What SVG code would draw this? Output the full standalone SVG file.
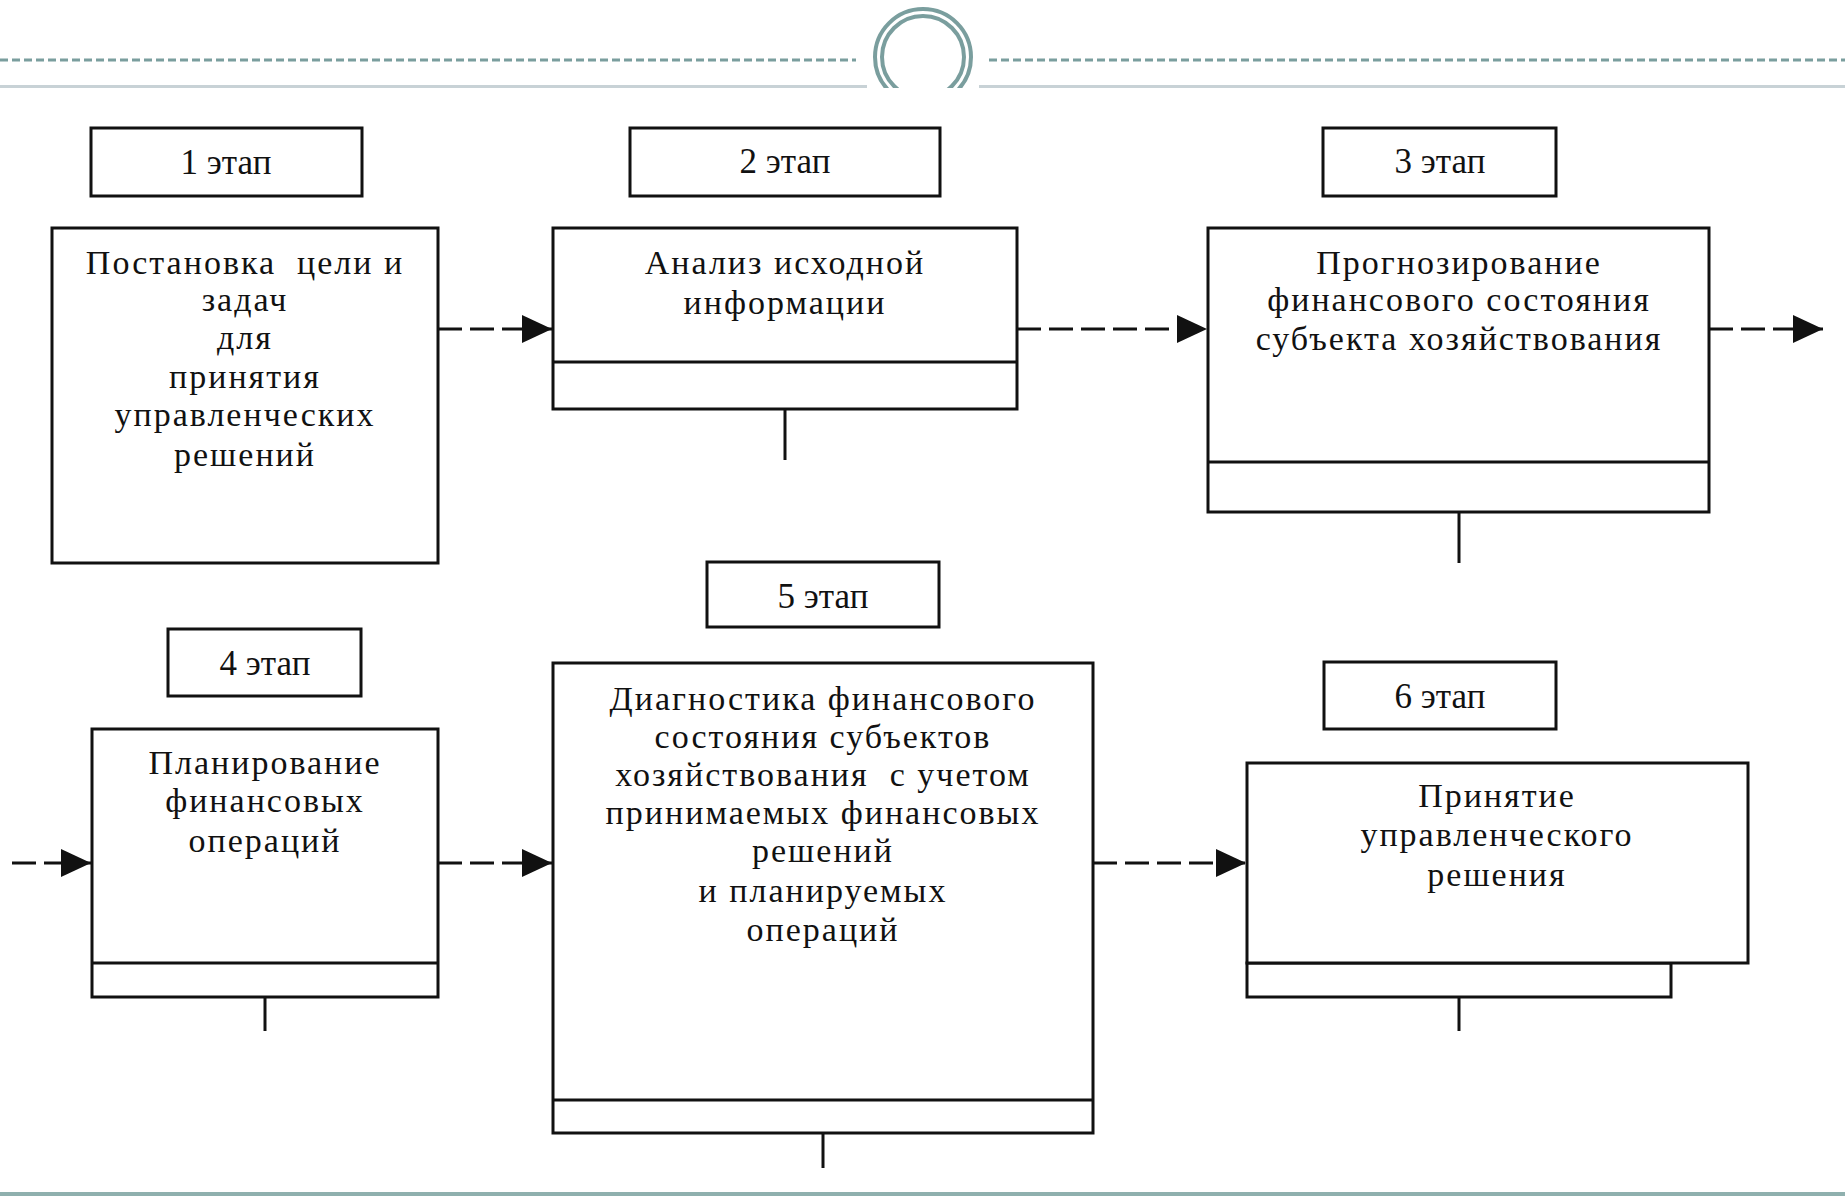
<svg xmlns="http://www.w3.org/2000/svg" width="1845" height="1196" viewBox="0 0 1845 1196">
<defs>
<style>
.box{fill:#fff;stroke:#111;stroke-width:3}
.ln{stroke:#111;stroke-width:3;fill:none}
.conn{stroke:#111;stroke-width:3;fill:none;stroke-dasharray:24 8}
.lbl{font-family:"Liberation Serif","Times New Roman",serif;font-size:35px;fill:#111;text-anchor:middle}
.txt{font-family:"Liberation Serif","Times New Roman",serif;font-size:34px;fill:#111;text-anchor:middle;letter-spacing:2px}
</style>
<marker id="ah" viewBox="0 0 30 28" refX="30" refY="14" markerWidth="30" markerHeight="28" markerUnits="userSpaceOnUse" orient="auto">
<path d="M0,0 L30,14 L0,28 z" fill="#111"/>
</marker>
<clipPath id="topclip"><rect x="0" y="0" width="1845" height="88"/></clipPath>
</defs>
<rect width="1845" height="1196" fill="#fff"/>
<g id="header">
<line x1="0" y1="60" x2="856" y2="60" stroke="#7a9e9e" stroke-width="3" stroke-dasharray="8 4"/>
<line x1="989" y1="60" x2="1845" y2="60" stroke="#7a9e9e" stroke-width="3" stroke-dasharray="8 4"/>
<line x1="0" y1="86.5" x2="867" y2="86.5" stroke="#c8d2d6" stroke-width="3"/>
<line x1="979" y1="86.5" x2="1845" y2="86.5" stroke="#c8d2d6" stroke-width="3"/>
<g clip-path="url(#topclip)" fill="none" stroke="#7a9e9e" stroke-width="4">
<circle cx="923" cy="57" r="48"/>
<circle cx="923" cy="57" r="41"/>
</g>
</g>
<g id="footer"><rect x="0" y="1192" width="1845" height="4" fill="#8fb0ae"/></g>

<g id="stage1-label"><rect class="box" x="91" y="128" width="271" height="68"/><text class="lbl" x="226" y="174">1 этап</text></g>
<g id="stage2-label"><rect class="box" x="630" y="128" width="310" height="68"/><text class="lbl" x="785" y="173">2 этап</text></g>
<g id="stage3-label"><rect class="box" x="1323" y="128" width="233" height="68"/><text class="lbl" x="1440" y="173">3 этап</text></g>
<g id="stage4-label"><rect class="box" x="168" y="629" width="193" height="67"/><text class="lbl" x="265" y="675">4 этап</text></g>
<g id="stage5-label"><rect class="box" x="707" y="562" width="232" height="65"/><text class="lbl" x="823" y="608">5 этап</text></g>
<g id="stage6-label"><rect class="box" x="1324" y="662" width="232" height="67"/><text class="lbl" x="1440" y="708">6 этап</text></g>

<g id="node1">
<rect class="box" x="52" y="228" width="386" height="335"/>
<text class="txt"><tspan x="245" y="274">Постановка&#160; цели и</tspan><tspan x="245" y="311">задач</tspan><tspan x="245" y="349">для</tspan><tspan x="245" y="388">принятия</tspan><tspan x="245" y="426">управленческих</tspan><tspan x="245" y="466">решений</tspan></text>
</g>
<g id="node2">
<rect class="box" x="553" y="228" width="464" height="181"/>
<line class="ln" x1="553" y1="362" x2="1017" y2="362"/>
<line class="ln" x1="785" y1="409" x2="785" y2="460"/>
<text class="txt"><tspan x="785" y="274">Анализ исходной</tspan><tspan x="785" y="314">информации</tspan></text>
</g>
<g id="node3">
<rect class="box" x="1208" y="228" width="501" height="284"/>
<line class="ln" x1="1208" y1="462" x2="1709" y2="462"/>
<line class="ln" x1="1459" y1="512" x2="1459" y2="563"/>
<text class="txt"><tspan x="1459" y="274">Прогнозирование</tspan><tspan x="1459" y="311">финансового состояния</tspan><tspan x="1459" y="350">субъекта хозяйствования</tspan></text>
</g>
<g id="node4">
<rect class="box" x="92" y="729" width="346" height="268"/>
<line class="ln" x1="92" y1="963" x2="438" y2="963"/>
<line class="ln" x1="265" y1="997" x2="265" y2="1031"/>
<text class="txt"><tspan x="265" y="774">Планирование</tspan><tspan x="265" y="812">финансовых</tspan><tspan x="265" y="852">операций</tspan></text>
</g>
<g id="node5">
<rect class="box" x="553" y="663" width="540" height="470"/>
<line class="ln" x1="553" y1="1100" x2="1093" y2="1100"/>
<line class="ln" x1="823" y1="1133" x2="823" y2="1168"/>
<text class="txt"><tspan x="823" y="710">Диагностика финансового</tspan><tspan x="823" y="748">состояния субъектов</tspan><tspan x="823" y="786">хозяйствования&#160; с учетом</tspan><tspan x="823" y="824">принимаемых финансовых</tspan><tspan x="823" y="862">решений</tspan><tspan x="823" y="902">и планируемых</tspan><tspan x="823" y="941">операций</tspan></text>
</g>
<g id="node6">
<rect class="box" x="1247" y="963" width="424" height="34"/>
<rect class="box" x="1247" y="763" width="501" height="200"/>
<line class="ln" x1="1459" y1="997" x2="1459" y2="1031"/>
<text class="txt"><tspan x="1497" y="807">Принятие</tspan><tspan x="1497" y="846">управленческого</tspan><tspan x="1497" y="886">решения</tspan></text>
</g>

<g id="connectors">
<line class="conn" x1="438" y1="329" x2="552" y2="329" marker-end="url(#ah)"/>
<line class="conn" x1="1017" y1="329" x2="1207" y2="329" marker-end="url(#ah)"/>
<line class="conn" x1="1709" y1="329" x2="1823" y2="329" marker-end="url(#ah)"/>
<line class="conn" x1="12" y1="863" x2="91" y2="863" marker-end="url(#ah)"/>
<line class="conn" x1="438" y1="863" x2="552" y2="863" marker-end="url(#ah)"/>
<line class="conn" x1="1093" y1="863" x2="1246" y2="863" marker-end="url(#ah)"/>
</g>
</svg>
